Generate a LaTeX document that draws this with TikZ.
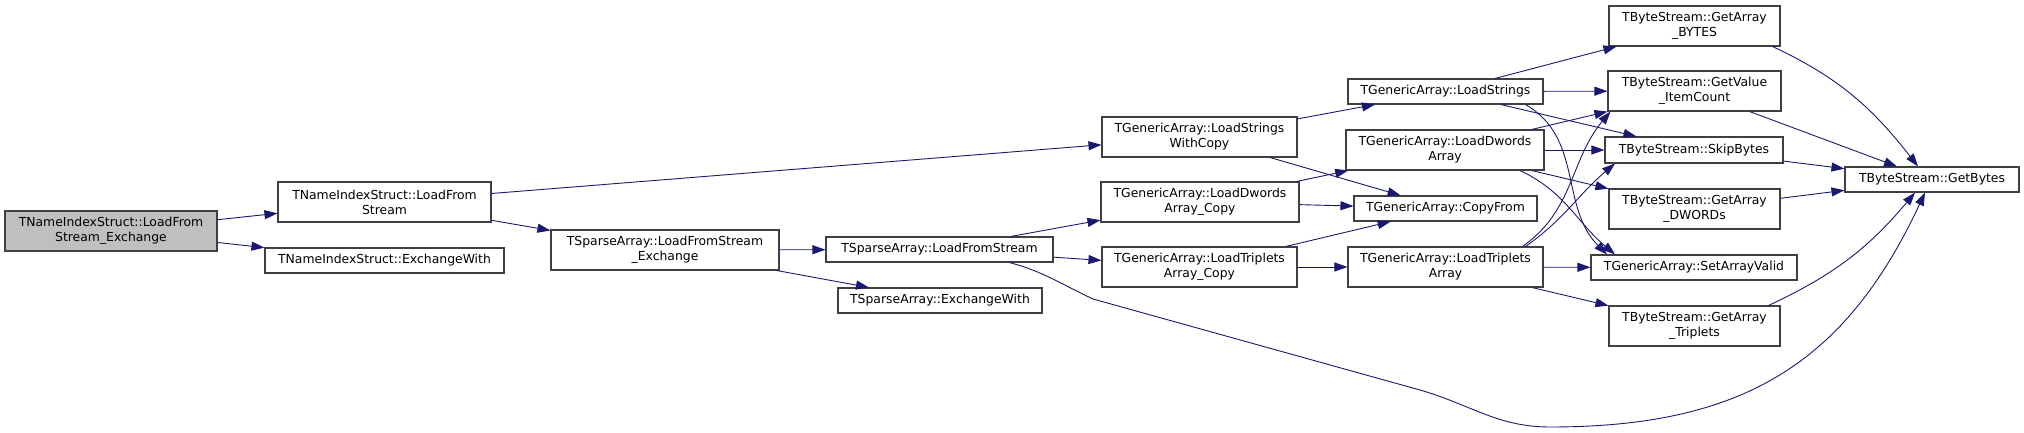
\documentclass[tikz,border=0pt]{standalone}
\usepackage{fontspec}
\setmainfont{DejaVu Sans}
\usetikzlibrary{arrows.meta}
\definecolor{edgeblue}{HTML}{191970}
\definecolor{boxline}{HTML}{404040}
\definecolor{rootgray}{HTML}{BFBFBF}

\begin{document}
\begin{tikzpicture}[x=1pt,y=-1pt,
    func/.style={draw=boxline, line width=1.1pt, fill=white, align=center, inner sep=0pt,
        font=\fontsize{12.4}{15}\selectfont},
    call/.style={draw=edgeblue, line width=0.9pt, -{Triangle[length=13pt,width=9pt]}}]
    \useasboundingbox (0,0) rectangle (2024,433);
    % callers on the left
    \node[func, fill=rootgray, minimum width=212pt, minimum height=40pt] (root) at (111,231) {TNameIndexStruct::LoadFrom\\Stream\_Exchange};
    \node[func, minimum width=213pt, minimum height=40pt] (nis_lfs) at (384.5,202) {TNameIndexStruct::LoadFrom\\Stream};
    \node[func, minimum width=239pt, minimum height=25pt] (nis_ex) at (384.5,260.5) {TNameIndexStruct::ExchangeWith};
    \node[func, minimum width=228pt, minimum height=40pt] (sa_lfsex) at (665,250) {TSparseArray::LoadFromStream\\\_Exchange};
    \node[func, minimum width=227pt, minimum height=25pt] (sa_lfs) at (939.5,249.5) {TSparseArray::LoadFromStream};
    \node[func, minimum width=204pt, minimum height=25pt] (sa_ex) at (940,300.5) {TSparseArray::ExchangeWith};
    % generic array
    \node[func, minimum width=195pt, minimum height=40pt] (ga_lswc) at (1199.5,137) {TGenericArray::LoadStrings\\WithCopy};
    \node[func, minimum width=198pt, minimum height=40pt] (ga_ldac) at (1200,202) {TGenericArray::LoadDwords\\Array\_Copy};
    \node[func, minimum width=195pt, minimum height=40pt] (ga_ltac) at (1199.5,267) {TGenericArray::LoadTriplets\\Array\_Copy};
    \node[func, minimum width=195pt, minimum height=25pt] (ga_ls) at (1445.5,91.5) {TGenericArray::LoadStrings};
    \node[func, minimum width=198pt, minimum height=40pt] (ga_lda) at (1445,150) {TGenericArray::LoadDwords\\Array};
    \node[func, minimum width=183pt, minimum height=25pt] (ga_cf) at (1445.5,208.5) {TGenericArray::CopyFrom};
    \node[func, minimum width=195pt, minimum height=40pt] (ga_lta) at (1445.5,267) {TGenericArray::LoadTriplets\\Array};
    % byte stream
    \node[func, minimum width=171pt, minimum height=40pt] (bs_gab) at (1694.5,26) {TByteStream::GetArray\\\_BYTES};
    \node[func, minimum width=173pt, minimum height=40pt] (bs_gvic) at (1694.5,91) {TByteStream::GetValue\\\_ItemCount};
    \node[func, minimum width=178pt, minimum height=26pt] (bs_sb) at (1694,150) {TByteStream::SkipBytes};
    \node[func, minimum width=171pt, minimum height=40pt] (bs_gad) at (1694.5,209) {TByteStream::GetArray\\\_DWORDs};
    \node[func, minimum width=206pt, minimum height=25pt] (ga_sav) at (1694,267.5) {TGenericArray::SetArrayValid};
    \node[func, minimum width=171pt, minimum height=40pt] (bs_gat) at (1694.5,326) {TByteStream::GetArray\\\_Triplets};
    \node[func, minimum width=174pt, minimum height=25pt] (bs_gb) at (1932,179.5) {TByteStream::GetBytes};

    \draw[call] (root) -- (nis_lfs);
    \draw[call] (root) -- (nis_ex);
    \draw[call] (nis_lfs) -- (ga_lswc);
    \draw[call] (nis_lfs) -- (sa_lfsex);
    \draw[call] (sa_lfsex) -- (sa_lfs);
    \draw[call] (sa_lfsex) -- (sa_ex);
    \draw[call] (sa_lfs) -- (ga_ldac);
    \draw[call] (sa_lfs) -- (ga_ltac);
    \draw[call] ([xshift=70pt]sa_lfs.south) to[out=-15,in=155] (1093,299) -- (1420,390)
        to[out=-16,in=180] (1550,427) to[out=0,in=-115,looseness=1.1] ([xshift=-7pt]bs_gb.south);
    \draw[call] (ga_lswc) -- (ga_ls);
    \draw[call] (ga_lswc) -- (ga_cf);
    \draw[call] (ga_ldac) -- (ga_lda);
    \draw[call] (ga_ldac) -- (ga_cf);
    \draw[call] (ga_ltac) -- (ga_cf);
    \draw[call] (ga_ltac) -- (ga_lta);
    \draw[call] (ga_ls) -- (bs_gab);
    \draw[call] (ga_ls) -- (bs_gvic);
    \draw[call] (ga_ls) -- (bs_sb);
    \draw[call] ([xshift=80pt]ga_ls.south) to[out=-30,in=135] ([xshift=-87pt]ga_sav.north);
    \draw[call] (ga_lda) -- (bs_gvic);
    \draw[call] (ga_lda) -- (bs_sb);
    \draw[call] (ga_lda) -- (bs_gad);
    \draw[call] ([xshift=75pt]ga_lda.south) to[out=-25,in=140] ([xshift=-79pt]ga_sav.north);
    \draw[call] ([xshift=77pt]ga_lta.north) to[out=35,in=-130] ([xshift=-84pt]bs_gvic.south);
    \draw[call] ([xshift=80pt]ga_lta.north) to[out=35,in=-140] ([xshift=-79pt]bs_sb.south);
    \draw[call] (ga_lta) -- (ga_sav);
    \draw[call] (ga_lta) -- (bs_gat);
    \draw[call] ([xshift=-8pt]bs_gab.south east) to[out=-25,in=128] ([xshift=-14pt]bs_gb.north);
    \draw[call] (bs_gvic) -- (bs_gb);
    \draw[call] (bs_sb) -- (bs_gb);
    \draw[call] (bs_gad) -- (bs_gb);
    \draw[call] ([xshift=-12pt]bs_gat.north east) to[out=25,in=-130] ([xshift=-17pt]bs_gb.south);
\end{tikzpicture}
\end{document}
